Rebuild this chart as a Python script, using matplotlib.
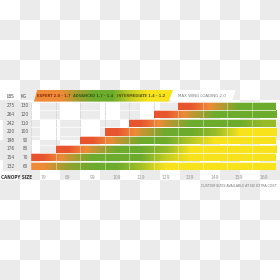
import matplotlib

matplotlib.use("Agg")
import matplotlib.pyplot as plt
import numpy as np
from matplotlib.colors import LinearSegmentedColormap, ListedColormap
from matplotlib.patches import Polygon

# --- data ---
lbs = [132, 154, 176, 198, 220, 242, 264, 275]
kg = [60, 70, 80, 90, 100, 110, 120, 130]
canopy_sizes = [79, 89, 99, 109, 119, 129, 139, 149, 159, 169]

# colour level per cell: 0 red, 1 orange, 2 green, 3 yellow (None = no bar)
levels_132 = [1.0, 1.7, 2.0, 2.0, 2.4, 3.0, 3.0, 3.0, 3.0, 3.0]
levels_154 = [0.2, 1.3, 2.0, 2.0, 2.0, 2.6, 3.0, 3.0, 3.0, 3.0]
levels_176 = [None, 0.2, 1.3, 2.0, 2.0, 2.3, 3.0, 3.0, 3.0, 3.0]
levels_198 = [None, None, 0.2, 1.3, 2.0, 2.0, 2.5, 3.0, 3.0, 3.0]
levels_220 = [None, None, None, 0.2, 1.3, 2.0, 2.0, 2.3, 3.0, 3.0]
levels_242 = [None, None, None, None, 0.2, 1.3, 2.0, 2.0, 2.0, 2.3]
levels_264 = [None, None, None, None, None, 0.2, 1.3, 2.0, 2.0, 2.0]
levels_275 = [None, None, None, None, None, None, 0.2, 1.2, 2.0, 2.0]
row_levels = [levels_132, levels_154, levels_176, levels_198,
              levels_220, levels_242, levels_264, levels_275]

banner_levels = [1.0, 1.0, 1.6, 2.0, 2.0, 2.6, 3.0, 3.0]
legend_labels = ["EXPERT 2.0 - 1.7", "ADVANCED 1.7 - 1.4", "INTERMEDIATE 1.4 - 1.2"]
legend_colors = ["#8c2a12", "#2f5c12", "#5c5a10"]
max_label = "MAX WING LOADING 2.0"
note = "CUSTOM SIZES AVAILABLE AT NO EXTRA COST"

plt.rcParams["font.family"] = ["DejaVu Sans"]
plt.rcParams["font.stretch"] = "condensed"

cmap = LinearSegmentedColormap.from_list(
    "wing", ["#e6472c", "#ef8b36", "#6dab2c", "#f7e21c"]
)

fig = plt.figure(figsize=(2.8, 2.8), dpi=100)

# transparent-looking checkerboard background
bg = fig.add_axes([0, 0, 1, 1], zorder=-1)
yy, xx = np.indices((14, 14))
bg.imshow((yy + xx) % 2, cmap=ListedColormap(["#ffffff", "#ebebeb"]),
          extent=(0, 280, 280, 0), interpolation="nearest")
bg.set_axis_off()

ax = fig.add_axes([31 / 280, 1 - 170.3 / 280, 245 / 280, 68.6 / 280])
ax.set_facecolor("none")
ax.set_axis_off()

# grid lines behind bars
for k in range(11):
    ax.plot([k - 0.5, k - 0.5], [-0.5, 7.5], color="#d6d6d6", lw=0.6, zorder=1)

# gradient bars
for i, levels in enumerate(row_levels):
    start = next(j for j, v in enumerate(levels) if v is not None)
    vals = np.array([levels[start:]], dtype=float)
    ax.imshow(vals, cmap=cmap, vmin=0, vmax=3, aspect="auto",
              extent=(start - 0.5, 9.5, i - 0.45, i + 0.45),
              interpolation="bilinear", interpolation_stage="data", zorder=2)
    # cell separators inside bar
    for k in range(start + 1, 10):
        ax.plot([k - 0.5, k - 0.5], [i - 0.45, i + 0.45],
                color="white", lw=0.6, alpha=0.45, zorder=3)

ax.set_xlim(-0.5, 9.5)
ax.set_ylim(-0.5, 7.5)

# lbs / kg cells
for i, (lb, k) in enumerate(zip(lbs, kg)):
    ax.add_patch(plt.Rectangle((-1.64, i - 0.45), 0.64, 0.9, color="#e9e9e9",
                               clip_on=False, zorder=2))
    ax.add_patch(plt.Rectangle((-0.94, i - 0.45), 0.4, 0.9, color="#e9e9e9",
                               clip_on=False, zorder=2))
    ax.text(-1.32, i, str(lb), ha="center", va="center", fontsize=3.4,
            color="#555555", clip_on=False, zorder=4)
    ax.text(-0.74, i, str(k), ha="center", va="center", fontsize=3.4,
            color="#555555", clip_on=False, zorder=4)

# row separators
for k in range(9):
    ax.plot([-0.5, 9.5], [k - 0.5, k - 0.5], color="white", lw=0.5, zorder=3)

# header strip: its own axes, same column scale
hd = fig.add_axes([31 / 280, 1 - 103 / 280, 245 / 280, 14 / 280])
hd.set_facecolor("none")
hd.set_axis_off()

hd.text(-1.32, 0.5, "LBS", ha="center", va="center", fontsize=3.4,
        color="#444444", clip_on=False)
hd.text(-0.78, 0.5, "KG", ha="center", va="center", fontsize=3.4,
        color="#444444", clip_on=False)

y0, y1 = 0.1, 0.93
banner = Polygon([(-0.38, y0), (5.12, y0), (5.3, y1), (-0.25, y1)],
                 closed=True, facecolor="none", edgecolor="none")
hd.add_patch(banner)
grad = hd.imshow(np.array([banner_levels]), cmap=cmap, vmin=0, vmax=3,
                 aspect="auto", extent=(-0.38, 5.3, y0, y1),
                 interpolation="bilinear", interpolation_stage="data", zorder=2)
grad.set_clip_path(banner)

hd.add_patch(Polygon([(5.2, y0), (7.7, y0), (7.85, y1), (5.35, y1)],
                     closed=True, facecolor="white", edgecolor="none", zorder=2))
hd.set_xlim(-0.5, 9.5)
hd.set_ylim(0, 1)

for label, xc, col in zip(legend_labels, [0.42, 2.05, 4.01], legend_colors):
    hd.text(xc, 0.52, label, ha="center", va="center", fontsize=2.9,
            color=col, fontweight="bold", clip_on=False, zorder=4)
hd.text(5.5, 0.52, max_label, ha="left", va="center", fontsize=3.2,
        color="#777777", clip_on=False, zorder=4)

# canopy size axis
ax.text(-1.1, -1.3, "CANOPY SIZE", ha="center", va="center", fontsize=3.3,
        color="#333333", fontweight="bold", clip_on=False)
for j, size in enumerate(canopy_sizes):
    ax.text(j, -1.3, str(size), ha="center", va="center", fontsize=3.6,
            color="#9a9a9a", clip_on=False)

ax.text(9.54, -2.35, note, ha="right", va="center", fontsize=2.6,
        color="#777777", clip_on=False)

fig.savefig("out.png", dpi=100)
